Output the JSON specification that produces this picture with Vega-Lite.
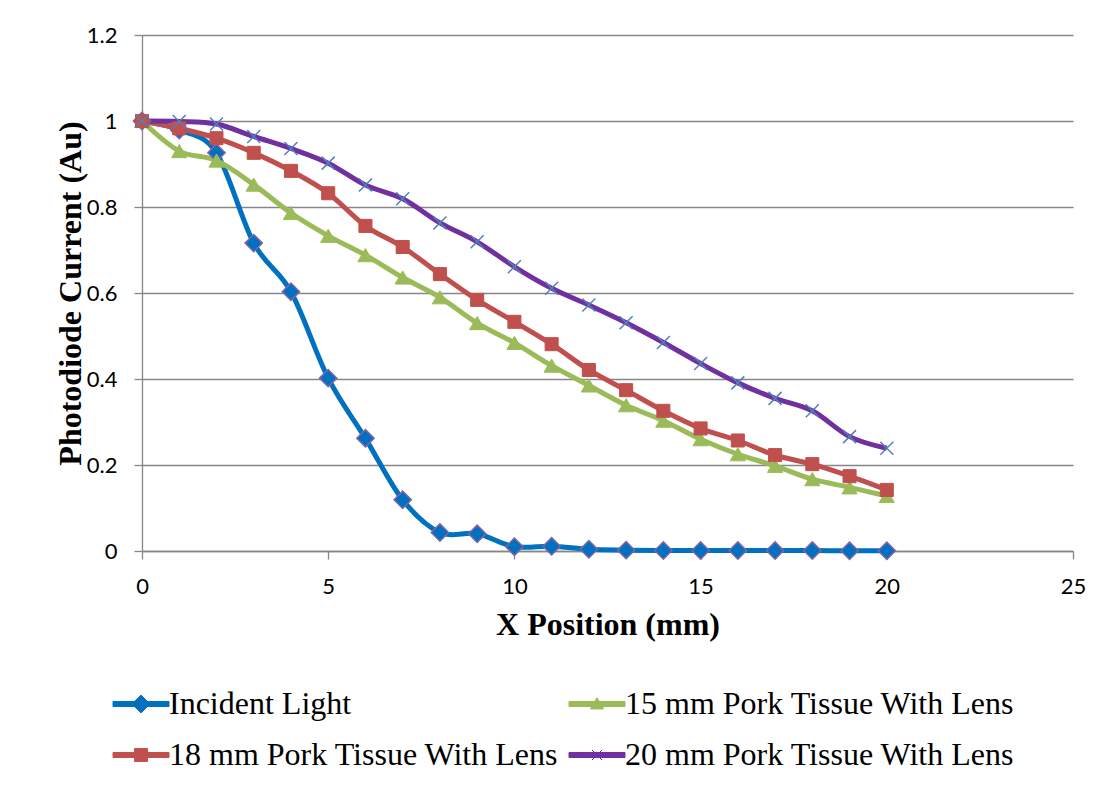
{
  "$schema": "https://vega.github.io/schema/vega-lite/v6.json",
  "width": 931,
  "height": 516,
  "autosize": {"type": "none"},
  "padding": {"left": 142, "top": 35, "right": 40, "bottom": 240},
  "background": "white",
  "config": {
    "view": {"stroke": null},
    "axis": {
      "domainColor": "#868686",
      "domainWidth": 1.3,
      "tickColor": "#868686",
      "tickWidth": 1.3,
      "gridColor": "#868686",
      "gridWidth": 1.3,
      "labelFont": "Lato",
      "labelFontSize": 22,
      "labelColor": "#000000",
      "labelFlush": false,
      "titleFont": "Liberation Serif",
      "titleFontSize": 32,
      "titleFontWeight": "bold",
      "titleColor": "#000000"
    }
  },
  "data": {
    "values": [
      {"x": 0, "y": 1.0, "series": "Incident Light"},
      {"x": 1, "y": 0.979, "series": "Incident Light"},
      {"x": 2, "y": 0.926, "series": "Incident Light"},
      {"x": 3, "y": 0.716, "series": "Incident Light"},
      {"x": 4, "y": 0.603, "series": "Incident Light"},
      {"x": 5, "y": 0.402, "series": "Incident Light"},
      {"x": 6, "y": 0.262, "series": "Incident Light"},
      {"x": 7, "y": 0.119, "series": "Incident Light"},
      {"x": 8, "y": 0.043, "series": "Incident Light"},
      {"x": 9, "y": 0.040, "series": "Incident Light"},
      {"x": 10, "y": 0.010, "series": "Incident Light"},
      {"x": 11, "y": 0.011, "series": "Incident Light"},
      {"x": 12, "y": 0.004, "series": "Incident Light"},
      {"x": 13, "y": 0.002, "series": "Incident Light"},
      {"x": 14, "y": 0.001, "series": "Incident Light"},
      {"x": 15, "y": 0.001, "series": "Incident Light"},
      {"x": 16, "y": 0.001, "series": "Incident Light"},
      {"x": 17, "y": 0.001, "series": "Incident Light"},
      {"x": 18, "y": 0.001, "series": "Incident Light"},
      {"x": 19, "y": 0.0005, "series": "Incident Light"},
      {"x": 20, "y": 0.0005, "series": "Incident Light"},
      {"x": 0, "y": 1.0, "series": "15 mm Pork Tissue With Lens"},
      {"x": 1, "y": 0.93, "series": "15 mm Pork Tissue With Lens"},
      {"x": 2, "y": 0.908, "series": "15 mm Pork Tissue With Lens"},
      {"x": 3, "y": 0.852, "series": "15 mm Pork Tissue With Lens"},
      {"x": 4, "y": 0.786, "series": "15 mm Pork Tissue With Lens"},
      {"x": 5, "y": 0.733, "series": "15 mm Pork Tissue With Lens"},
      {"x": 6, "y": 0.688, "series": "15 mm Pork Tissue With Lens"},
      {"x": 7, "y": 0.636, "series": "15 mm Pork Tissue With Lens"},
      {"x": 8, "y": 0.59, "series": "15 mm Pork Tissue With Lens"},
      {"x": 9, "y": 0.53, "series": "15 mm Pork Tissue With Lens"},
      {"x": 10, "y": 0.484, "series": "15 mm Pork Tissue With Lens"},
      {"x": 11, "y": 0.431, "series": "15 mm Pork Tissue With Lens"},
      {"x": 12, "y": 0.385, "series": "15 mm Pork Tissue With Lens"},
      {"x": 13, "y": 0.339, "series": "15 mm Pork Tissue With Lens"},
      {"x": 14, "y": 0.303, "series": "15 mm Pork Tissue With Lens"},
      {"x": 15, "y": 0.26, "series": "15 mm Pork Tissue With Lens"},
      {"x": 16, "y": 0.225, "series": "15 mm Pork Tissue With Lens"},
      {"x": 17, "y": 0.198, "series": "15 mm Pork Tissue With Lens"},
      {"x": 18, "y": 0.167, "series": "15 mm Pork Tissue With Lens"},
      {"x": 19, "y": 0.148, "series": "15 mm Pork Tissue With Lens"},
      {"x": 20, "y": 0.128, "series": "15 mm Pork Tissue With Lens"},
      {"x": 0, "y": 1.0, "series": "18 mm Pork Tissue With Lens"},
      {"x": 1, "y": 0.983, "series": "18 mm Pork Tissue With Lens"},
      {"x": 2, "y": 0.96, "series": "18 mm Pork Tissue With Lens"},
      {"x": 3, "y": 0.926, "series": "18 mm Pork Tissue With Lens"},
      {"x": 4, "y": 0.884, "series": "18 mm Pork Tissue With Lens"},
      {"x": 5, "y": 0.832, "series": "18 mm Pork Tissue With Lens"},
      {"x": 6, "y": 0.756, "series": "18 mm Pork Tissue With Lens"},
      {"x": 7, "y": 0.707, "series": "18 mm Pork Tissue With Lens"},
      {"x": 8, "y": 0.644, "series": "18 mm Pork Tissue With Lens"},
      {"x": 9, "y": 0.584, "series": "18 mm Pork Tissue With Lens"},
      {"x": 10, "y": 0.533, "series": "18 mm Pork Tissue With Lens"},
      {"x": 11, "y": 0.481, "series": "18 mm Pork Tissue With Lens"},
      {"x": 12, "y": 0.421, "series": "18 mm Pork Tissue With Lens"},
      {"x": 13, "y": 0.374, "series": "18 mm Pork Tissue With Lens"},
      {"x": 14, "y": 0.326, "series": "18 mm Pork Tissue With Lens"},
      {"x": 15, "y": 0.285, "series": "18 mm Pork Tissue With Lens"},
      {"x": 16, "y": 0.257, "series": "18 mm Pork Tissue With Lens"},
      {"x": 17, "y": 0.223, "series": "18 mm Pork Tissue With Lens"},
      {"x": 18, "y": 0.202, "series": "18 mm Pork Tissue With Lens"},
      {"x": 19, "y": 0.174, "series": "18 mm Pork Tissue With Lens"},
      {"x": 20, "y": 0.142, "series": "18 mm Pork Tissue With Lens"},
      {"x": 0, "y": 1.0, "series": "20 mm Pork Tissue With Lens"},
      {"x": 1, "y": 0.999, "series": "20 mm Pork Tissue With Lens"},
      {"x": 2, "y": 0.993, "series": "20 mm Pork Tissue With Lens"},
      {"x": 3, "y": 0.964, "series": "20 mm Pork Tissue With Lens"},
      {"x": 4, "y": 0.936, "series": "20 mm Pork Tissue With Lens"},
      {"x": 5, "y": 0.902, "series": "20 mm Pork Tissue With Lens"},
      {"x": 6, "y": 0.851, "series": "20 mm Pork Tissue With Lens"},
      {"x": 7, "y": 0.819, "series": "20 mm Pork Tissue With Lens"},
      {"x": 8, "y": 0.763, "series": "20 mm Pork Tissue With Lens"},
      {"x": 9, "y": 0.719, "series": "20 mm Pork Tissue With Lens"},
      {"x": 10, "y": 0.661, "series": "20 mm Pork Tissue With Lens"},
      {"x": 11, "y": 0.611, "series": "20 mm Pork Tissue With Lens"},
      {"x": 12, "y": 0.572, "series": "20 mm Pork Tissue With Lens"},
      {"x": 13, "y": 0.531, "series": "20 mm Pork Tissue With Lens"},
      {"x": 14, "y": 0.485, "series": "20 mm Pork Tissue With Lens"},
      {"x": 15, "y": 0.436, "series": "20 mm Pork Tissue With Lens"},
      {"x": 16, "y": 0.391, "series": "20 mm Pork Tissue With Lens"},
      {"x": 17, "y": 0.355, "series": "20 mm Pork Tissue With Lens"},
      {"x": 18, "y": 0.326, "series": "20 mm Pork Tissue With Lens"},
      {"x": 19, "y": 0.266, "series": "20 mm Pork Tissue With Lens"},
      {"x": 20, "y": 0.239, "series": "20 mm Pork Tissue With Lens"}
    ]
  },
  "encoding": {
    "x": {
      "field": "x",
      "type": "quantitative",
      "scale": {"domain": [0, 25], "nice": false},
      "axis": {
        "title": "X Position (mm)",
        "values": [0, 5, 10, 15, 20, 25],
        "grid": false,
        "tickSize": 8,
        "labelPadding": 17,
        "titlePadding": 12
      }
    },
    "y": {
      "field": "y",
      "type": "quantitative",
      "scale": {"domain": [0, 1.2], "nice": false},
      "axis": {
        "title": "Photodiode Current (Au)",
        "values": [0, 0.2, 0.4, 0.6, 0.8, 1, 1.2],
        "format": "~g",
        "grid": true,
        "tickSize": 8,
        "labelPadding": 17,
        "titleX": -72,
        "titleY": 258,
        "titleBaseline": "middle",
        "titleAngle": 270
      }
    },
    "color": {
      "field": "series",
      "type": "nominal",
      "scale": {
        "domain": ["Incident Light", "15 mm Pork Tissue With Lens", "18 mm Pork Tissue With Lens", "20 mm Pork Tissue With Lens"],
        "range": ["#0070C0", "#9BBB59", "#C0504D", "#7030A0"]
      },
      "legend": {
        "title": null,
        "orient": "none",
        "direction": "horizontal",
        "legendX": -17,
        "legendY": 653,
        "columns": 2,
        "columnPadding": 8,
        "rowPadding": 19,
        "padding": 0,
        "labelFont": "Liberation Serif",
        "labelFontSize": 32,
        "labelColor": "#000000",
        "labelLimit": 0,
        "labelOffset": 12,
        "symbolSize": 784,
        "symbolStrokeWidth": 1,
        "encode": {
          "symbols": {
            "update": {
              "shape": {"signal": "datum.value === 'Incident Light' ? 'M-2,-0.18H2V0.18H-2Z M0,-0.64L0.64,0L0,0.64L-0.64,0Z' : datum.value === '15 mm Pork Tissue With Lens' ? 'M-2,-0.18H2V0.18H-2Z M0,-0.45L0.47,0.35H-0.47Z' : datum.value === '18 mm Pork Tissue With Lens' ? 'M-2,-0.18H2V0.18H-2Z M-0.46,-0.46H0.46V0.46H-0.46Z' : 'M-2,-0.18H2V0.18H-2Z M-0.36,-0.36L0.36,0.36M-0.36,0.36L0.36,-0.36'"},
              "fill": {"signal": "scale('color', datum.value)"},
              "stroke": {"signal": "datum.value === '20 mm Pork Tissue With Lens' ? '#4F81BD' : scale('color', datum.value)"},
              "strokeWidth": {"value": 1},
              "opacity": {"value": 1}
            }
          }
        }
      }
    }
  },
  "layer": [
    {
      "mark": {"type": "line", "interpolate": "cardinal", "strokeWidth": 5}
    },
    {
      "transform": [{"filter": "datum.series === 'Incident Light'"}],
      "mark": {"type": "point", "shape": "diamond", "filled": true, "size": 300, "stroke": "#8064A2", "strokeWidth": 1.5, "opacity": 1}
    },
    {
      "transform": [{"filter": "datum.series === '15 mm Pork Tissue With Lens'"}],
      "mark": {"type": "point", "shape": "triangle-up", "filled": true, "size": 230, "stroke": "#9BBB59", "strokeWidth": 1, "opacity": 1}
    },
    {
      "transform": [{"filter": "datum.series === '18 mm Pork Tissue With Lens'"}],
      "mark": {"type": "point", "shape": "square", "filled": true, "size": 170, "stroke": "#C0504D", "strokeWidth": 1, "opacity": 1}
    },
    {
      "transform": [{"filter": "datum.series === '20 mm Pork Tissue With Lens'"}],
      "mark": {"type": "point", "shape": "M-0.75,-0.75L0.75,0.75M-0.75,0.75L0.75,-0.75", "filled": true, "size": 300, "stroke": "#4F81BD", "strokeWidth": 1.5, "opacity": 1}
    }
  ]
}
